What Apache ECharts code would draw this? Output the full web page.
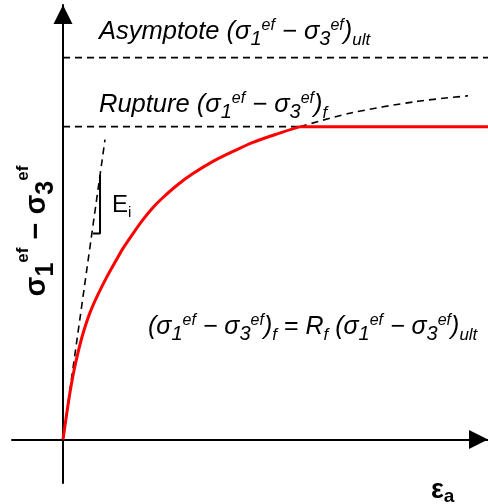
<!DOCTYPE html>
<html>
<head>
<meta charset="utf-8">
<script src="https://cdn.jsdelivr.net/npm/echarts@6/dist/echarts.min.js"></script>
<style>
html,body{margin:0;padding:0;background:#fff;}
#chart{width:488px;height:504px;}
</style>
</head>
<body>
<div id="chart"></div>
<script>
// Strain (eps_a) and deviator stress (sigma1 - sigma3), schematic units
const strainCurve = [0, 0.47, 0.94, 1.41, 1.88, 2.59, 3.53, 4.71, 6.35, 8.24, 10.35, 12.47, 14.12, 16.47, 18.82, 21.18, 23.53, 27.06, 30.59, 35.29, 40.0, 44.71, 50.59, 55.76];
const devCurve    = [0, 3.2, 6.4, 9.4, 12.2, 15.9, 20.0, 24.4, 29.2, 33.4, 37.5, 41.2, 44.0, 47.4, 50.6, 53.4, 55.7, 58.7, 61.2, 64.0, 66.3, 68.4, 70.4, 72.0];
const strainPlateau = [55.76, 100];
const devPlateau    = [72.0, 72.0];
const asymptoteLevel = 87.9;
const ruptureLevel = 72.0;
const strainRuptureEnd = 55.76;
const strainExtrap = [55.76, 67.5, 83.2, 95.3];
const devExtrap    = [72.0, 75.1, 77.8, 79.1];
const strainTangent = [0, 9.88];
const devTangent    = [0, 69.0];
const strainTri = [7.06, 8.71, 8.71];
const devTri    = [47.4, 47.4, 60.9];
const xRange = [-12, 100];
const yRange = [-10, 100];

const pairs = (xs, ys) => xs.map((x, i) => [x, ys[i]]);
const FONT = '"Liberation Sans", Arial, sans-serif';
const dashed = {color: '#000', width: 1.6, type: [7, 5]};

const chart = echarts.init(document.getElementById('chart'), null, {renderer: 'canvas'});

function lineSeries(data, style, extra) {
  return Object.assign({
    type: 'line', data: data, showSymbol: false, symbol: 'none',
    lineStyle: style, silent: true, animation: false
  }, extra || {});
}

const itRich = (base) => ({
  b: {fontFamily: FONT, fontStyle: 'italic', fontSize: base, lineHeight: 34, verticalAlign: 'middle', color: '#000'},
  n: {fontFamily: FONT, fontStyle: 'italic', fontSize: Math.round(base*0.8), lineHeight: 30, verticalAlign: 'bottom', color: '#000'},
  p: {fontFamily: FONT, fontStyle: 'italic', fontSize: Math.round(base*0.62), lineHeight: 15, verticalAlign: 'top', padding: [3,0,0,0], color: '#000'},
  u: {fontFamily: FONT, fontStyle: 'italic', fontSize: Math.round(base*0.66), lineHeight: 16, verticalAlign: 'bottom', color: '#000'},
  r: {fontFamily: FONT, fontStyle: 'normal', fontSize: base, lineHeight: 34, verticalAlign: 'middle', color: '#000'}
});

const sig = '{b|(σ}{n|1}{p|ef}{b| − σ}{n|3}{p|ef}{b|)}';

chart.setOption({
  animation: false,
  backgroundColor: '#fff',
  grid: {left: 12, right: 0, top: 5, bottom: 21, containLabel: false},
  xAxis: {
    type: 'value', min: xRange[0], max: xRange[1],
    axisLine: {onZero: true, symbol: ['none', 'triangle'], symbolSize: [19, 19], symbolOffset: [0, -9.5], lineStyle: {color: '#000', width: 2}},
    axisTick: {show: false}, axisLabel: {show: false}, splitLine: {show: false}
  },
  yAxis: {
    type: 'value', min: yRange[0], max: yRange[1],
    axisLine: {onZero: true, symbol: ['none', 'triangle'], symbolSize: [19, 19], symbolOffset: [0, -9.5], lineStyle: {color: '#000', width: 2}},
    axisTick: {show: false}, axisLabel: {show: false}, splitLine: {show: false}
  },
  series: [
    lineSeries([[0, asymptoteLevel], [xRange[1], asymptoteLevel]], dashed),
    lineSeries([[0, ruptureLevel], [strainRuptureEnd, ruptureLevel]], dashed),
    lineSeries(pairs(strainExtrap, devExtrap), dashed, {smooth: 0.3}),
    lineSeries(pairs(strainTangent, devTangent), dashed),
    lineSeries(pairs(strainTri, devTri), {color: '#000', width: 2}),
    lineSeries(pairs(strainCurve, devCurve), {color: '#ff0000', width: 3}, {smooth: 0.3, z: 5}),
    lineSeries(pairs(strainPlateau, devPlateau), {color: '#ff0000', width: 3}, {z: 5})
  ],
  graphic: [
    {type: 'text', x: 99, y: 15, z: 10, style: {text: '{b|Asymptote }' + sig + '{u|ult}', rich: itRich(25.5)}},
    {type: 'text', x: 99, y: 88, z: 10, style: {text: '{b|Rupture }' + sig + '{u|f}', rich: itRich(25.5)}},
    {type: 'text', x: 148, y: 310, z: 10, style: {text: sig + '{u|f}{r| = }{b|R}{u|f}{b| }' + sig + '{u|ult}', rich: itRich(25)}},
    {type: 'text', x: 112, y: 190, z: 10, style: {text: '{e|E}{i|i}', rich: {
      e: {fontFamily: FONT, fontSize: 24, lineHeight: 30, verticalAlign: 'middle', color: '#000'},
      i: {fontFamily: FONT, fontSize: 15, lineHeight: 26, verticalAlign: 'bottom', color: '#000'}
    }}},
    {type: 'text', x: 431, y: 476, z: 10, style: {text: '{e|ε}{a|a}', rich: {
      e: {fontFamily: FONT, fontWeight: 'bold', fontSize: 27, lineHeight: 30, verticalAlign: 'middle', color: '#000'},
      a: {fontFamily: FONT, fontWeight: 'bold', fontSize: 19, lineHeight: 22, verticalAlign: 'bottom', color: '#000'}
    }}},
    {type: 'text', x: 37, y: 231, rotation: Math.PI / 2, z: 10, style: {
      text: '{s|σ}{n|1}{p|ef}{s| − σ}{n|3}{p|ef}', align: 'center', verticalAlign: 'middle', rich: {
        s: {fontFamily: FONT, fontWeight: 'bold', fontSize: 29, lineHeight: 44, verticalAlign: 'middle', color: '#000'},
        n: {fontFamily: FONT, fontWeight: 'bold', fontSize: 25, lineHeight: 38, verticalAlign: 'bottom', color: '#000'},
        p: {fontFamily: FONT, fontWeight: 'bold', fontSize: 17, lineHeight: 17, verticalAlign: 'top', color: '#000'}
      }
    }}
  ]
});
</script>
</body>
</html>
